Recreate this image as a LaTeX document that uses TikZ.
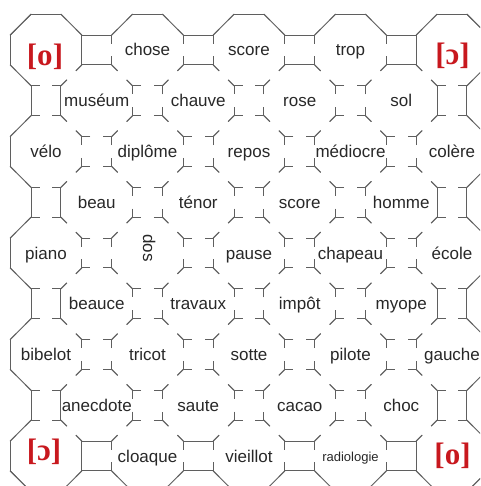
\documentclass[tikz,border=0pt]{standalone}
\usepackage{fontspec}
\newfontfamily\wordfont{Liberation Sans}
\newfontfamily\ipafont{Liberation Serif}
\definecolor{edgecol}{RGB}{95,95,95}
\definecolor{ipared}{RGB}{200,24,30}
\definecolor{wordcol}{RGB}{40,40,40}
\def\octR{35.886}
\def\octS{14.864}
% one edge of an octagon centred at (#2,#3); #4 = 0 top,1 TR,2 right,3 BR,4 bottom,5 BL,6 left,7 TL
\newcommand\octedge[4]{%
  \begin{scope}[shift={(#2,#3)}]
    \ifcase#4 \draw[#1] (-\octS,-\octR) -- (\octS,-\octR);
    \or \draw[#1] (\octS,-\octR) -- (\octR,-\octS);
    \or \draw[#1] (\octR,-\octS) -- (\octR,\octS);
    \or \draw[#1] (\octR,\octS) -- (\octS,\octR);
    \or \draw[#1] (\octS,\octR) -- (-\octS,\octR);
    \or \draw[#1] (-\octS,\octR) -- (-\octR,\octS);
    \or \draw[#1] (-\octR,\octS) -- (-\octR,-\octS);
    \or \draw[#1] (-\octR,-\octS) -- (-\octS,-\octR);
    \fi
  \end{scope}}
\tikzset{
  octstub/.style={draw=edgecol, line width=0.85pt, dash pattern=on 8.5pt off 12.73pt},
  octsolid/.style={draw=edgecol, line width=0.85pt},
  wordlabel/.style={font=\wordfont\fontsize{17}{20}\selectfont, text=wordcol, inner sep=0pt, text height=14pt, text depth=2pt},
  ipalabel/.style={font=\ipafont\bfseries\fontsize{31}{34}\selectfont, text=ipared, inner sep=0pt}
}
\begin{document}
\begin{tikzpicture}[x=1pt,y=-1pt]
\useasboundingbox (0,0) rectangle (480,486);
\fill[white] (0,0) rectangle (480,486);
\clip (0,0) rectangle (480,486);
% broken edges of every octagon
\foreach \a in {0,2,4,6,8} {\foreach \b in {0,2,4,6,8} {%
  \pgfmathsetmacro\cx{46+50.75*\a}\pgfmathsetmacro\cy{50+50.75*\b}%
  \foreach \e in {0,...,7} {\octedge{octstub}{\cx}{\cy}{\e}}}}
\foreach \a in {1,3,5,7} {\foreach \b in {1,3,5,7} {%
  \pgfmathsetmacro\cx{46+50.75*\a}\pgfmathsetmacro\cy{50+50.75*\b}%
  \foreach \e in {0,...,7} {\octedge{octstub}{\cx}{\cy}{\e}}}}
% solid outline
\foreach \a in {0,2,4,6,8} {\pgfmathsetmacro\cx{46+50.75*\a}%
  \foreach \e in {7,0,1} {\octedge{octsolid}{\cx}{50}{\e}}%
  \foreach \e in {3,4,5} {\octedge{octsolid}{\cx}{456}{\e}}}
\foreach \b in {0,2,4,6,8} {\pgfmathsetmacro\cy{50+50.75*\b}%
  \foreach \e in {5,6,7} {\octedge{octsolid}{46}{\cy}{\e}}%
  \foreach \e in {1,2,3} {\octedge{octsolid}{452}{\cy}{\e}}}
\octedge{octsolid}{46}{50}{2}
\octedge{octsolid}{452}{50}{6}
\octedge{octsolid}{46}{456}{2}
\octedge{octsolid}{452}{456}{6}
% boundary squares
\foreach \a in {1,3,5,7} {\pgfmathsetmacro\cx{46+50.75*\a}%
  \foreach \cy in {50,456} {%
    \draw[octsolid] (\cx-\octS,\cy-\octS) -- (\cx+\octS,\cy-\octS);
    \draw[octsolid] (\cx-\octS,\cy+\octS) -- (\cx+\octS,\cy+\octS);}}
\foreach \b in {1,3,5,7} {\pgfmathsetmacro\cy{50+50.75*\b}%
  \foreach \cx in {46,452} {%
    \draw[octsolid] (\cx-\octS,\cy-\octS) -- (\cx-\octS,\cy+\octS);
    \draw[octsolid] (\cx+\octS,\cy-\octS) -- (\cx+\octS,\cy+\octS);}}
% words
\foreach \a/\b/\t in {2/0/chose, 4/0/score, 6/0/trop,
  1/1/muséum, 3/1/chauve, 5/1/rose, 7/1/sol,
  0/2/vélo, 2/2/diplôme, 4/2/repos, 6/2/médiocre, 8/2/colère,
  1/3/beau, 3/3/ténor, 5/3/score, 7/3/homme,
  0/4/piano, 4/4/pause, 6/4/chapeau, 8/4/école,
  1/5/beauce, 3/5/travaux, 5/5/impôt, 7/5/myope,
  0/6/bibelot, 2/6/tricot, 4/6/sotte, 6/6/pilote, 8/6/gauche,
  1/7/anecdote, 3/7/saute, 5/7/cacao, 7/7/choc,
  2/8/cloaque, 4/8/vieillot}
  {\node[wordlabel] (w-\a-\b) at ({46+50.75*\a},{50+50.75*\b}) {\t};}
\node[wordlabel, rotate=-90, text height=12pt, text depth=0pt] (w-2-4) at (149,248) {dos};
\node[wordlabel, font=\wordfont\fontsize{13}{16}\selectfont, text height=11pt, text depth=1pt] (w-6-8) at (350.5,456) {radiologie};
% IPA corner labels
\node[ipalabel] (ipa-tl) at (45,57) {[o]};
\node[ipalabel] (ipa-tr) at (452.5,56) {[ɔ]};
\node[ipalabel] (ipa-bl) at (44,452) {[ɔ]};
\node[ipalabel] (ipa-br) at (452.5,456) {[o]};
\end{tikzpicture}
\end{document}
